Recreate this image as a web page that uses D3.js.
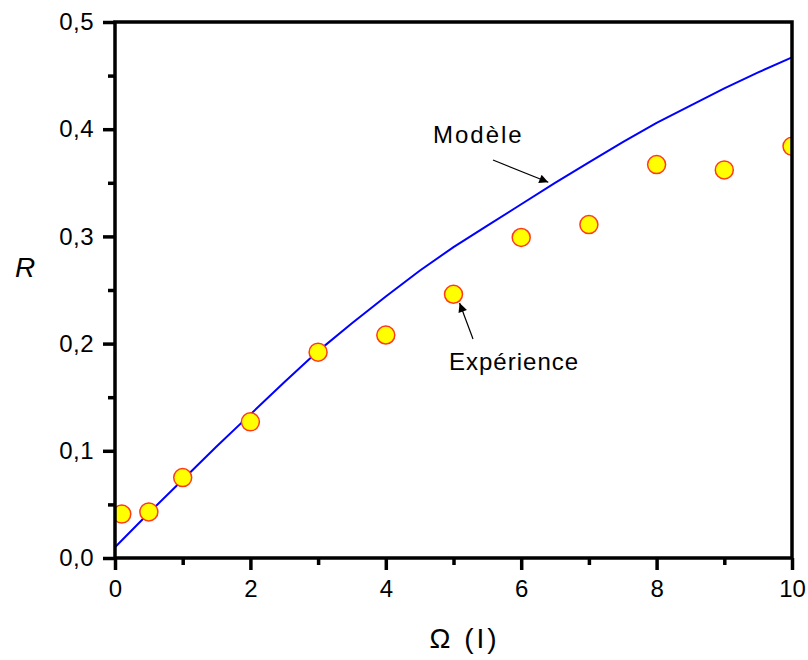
<!DOCTYPE html>
<html>
<head>
<meta charset="utf-8">
<script src="https://cdn.jsdelivr.net/npm/d3@7"></script>
<style>
  html, body { margin: 0; padding: 0; background: #fff; }
  svg { display: block; }
  text { font-family: "Liberation Sans", Arial, sans-serif; fill: #000; }
</style>
</head>
<body>
<svg id="chart" width="808" height="660"></svg>
<script>
// ---- data ----
const expOmega = [0.1, 0.5, 1, 2, 3, 4, 5, 6, 7, 8, 9, 10];
const expR     = [0.041, 0.043, 0.075, 0.127, 0.192, 0.208, 0.246, 0.299, 0.311, 0.367, 0.362, 0.384];

const modelOmega = [0, 0.5, 1, 1.5, 2, 2.5, 3, 3.5, 4, 4.5, 5, 5.5, 6, 6.5, 7, 7.5, 8, 8.5, 9, 9.5, 10];
const modelR     = [0.010, 0.042, 0.073, 0.104, 0.134, 0.164, 0.193, 0.219, 0.244, 0.268, 0.290, 0.310, 0.330, 0.350, 0.369, 0.388, 0.406, 0.422, 0.438, 0.453, 0.467];

const xTicks = [0, 2, 4, 6, 8, 10];
const xMinorTicks = [1, 3, 5, 7, 9];
const yTicks = [0, 0.1, 0.2, 0.3, 0.4, 0.5];
const yMinorTicks = [0.05, 0.15, 0.25, 0.35, 0.45];

const xLabel = "Ω (I)";
const yLabel = "R";
const modelLabel = "Modèle";
const expLabel = "Expérience";

// ---- layout ----
const svg = d3.select("#chart");
const L = 115, R = 792, T = 22, B = 558;
const x = d3.scaleLinear().domain([0, 10]).range([L, R]);
const y = d3.scaleLinear().domain([0, 0.5]).range([B, T]);
const fmtY = v => d3.format(".1f")(v).replace(".", ",");

// defs: arrow marker
svg.append("defs").append("marker")
  .attr("id", "arrow").attr("viewBox", "0 0 10 10")
  .attr("refX", 10).attr("refY", 5)
  .attr("markerWidth", 14).attr("markerHeight", 9)
  .attr("markerUnits", "userSpaceOnUse")
  .attr("orient", "auto")
  .append("path").attr("d", "M0,0 L10,5 L0,10 z").attr("fill", "#000");

// clip for data
svg.append("clipPath").attr("id", "clip")
  .append("rect").attr("x", L).attr("y", T).attr("width", R - L).attr("height", B - T);

// model line
const line = d3.line().x((d, i) => x(modelOmega[i])).y((d, i) => y(modelR[i]));
svg.append("path")
  .datum(modelR)
  .attr("d", line)
  .attr("fill", "none")
  .attr("stroke", "#0000ff")
  .attr("stroke-width", 2);

// experiment points
svg.append("g").attr("clip-path", "url(#clip)")
  .selectAll("circle").data(expR).join("circle")
  .attr("cx", (d, i) => x(expOmega[i]))
  .attr("cy", d => y(d))
  .attr("r", 9)
  .attr("fill", "#ffff00")
  .attr("stroke", "#ff3a1a")
  .attr("stroke-width", 1.5);

// axes
const axisW = 3.5;
const xAxis = svg.append("g").attr("transform", `translate(0,${B})`)
  .call(d3.axisBottom(x).tickValues(xTicks).tickSize(12).tickPadding(10).tickFormat(d3.format("d")));
const xMinor = svg.append("g").attr("transform", `translate(0,${B})`)
  .call(d3.axisBottom(x).tickValues(xMinorTicks).tickSize(7).tickFormat(""));
const yAxis = svg.append("g").attr("transform", `translate(${L},0)`)
  .call(d3.axisLeft(y).tickValues(yTicks).tickSize(12).tickPadding(9).tickFormat(fmtY));
const yMinor = svg.append("g").attr("transform", `translate(${L},0)`)
  .call(d3.axisLeft(y).tickValues(yMinorTicks).tickSize(7).tickFormat(""));

[xAxis, xMinor, yAxis, yMinor].forEach(g => {
  g.select(".domain").remove();
  g.selectAll("line").attr("stroke", "#000").attr("stroke-width", 3.5);
  g.selectAll("text").attr("font-size", 24).attr("fill", "#000")
    .attr("font-family", "'Liberation Sans', Arial, sans-serif");
});
yAxis.selectAll("text").attr("letter-spacing", "0.5px");

// frame
svg.append("rect")
  .attr("x", L).attr("y", T).attr("width", R - L).attr("height", B - T)
  .attr("fill", "none").attr("stroke", "#000").attr("stroke-width", axisW);

// axis titles
svg.append("text")
  .attr("x", x(5) - 24).attr("y", 648)
  .attr("font-size", 28).attr("letter-spacing", "3px")
  .text(xLabel);
svg.append("text")
  .attr("x", 25).attr("y", 277)
  .attr("text-anchor", "middle")
  .attr("font-size", 28).attr("font-style", "italic")
  .text(yLabel);

// annotations
svg.append("text")
  .attr("x", 433).attr("y", 143)
  .attr("font-size", 24).attr("letter-spacing", "2px")
  .text(modelLabel);
svg.append("line")
  .attr("x1", 493).attr("y1", 160)
  .attr("x2", x(6.4)).attr("y2", y(0.3505))
  .attr("stroke", "#000").attr("stroke-width", 1.2)
  .attr("marker-end", "url(#arrow)");

svg.append("text")
  .attr("x", 449).attr("y", 370)
  .attr("font-size", 24).attr("letter-spacing", "1px")
  .text(expLabel);
svg.append("line")
  .attr("x1", 473).attr("y1", 339)
  .attr("x2", x(5.09)).attr("y2", y(0.2378))
  .attr("stroke", "#000").attr("stroke-width", 1.2)
  .attr("marker-end", "url(#arrow)");
</script>
</body>
</html>
